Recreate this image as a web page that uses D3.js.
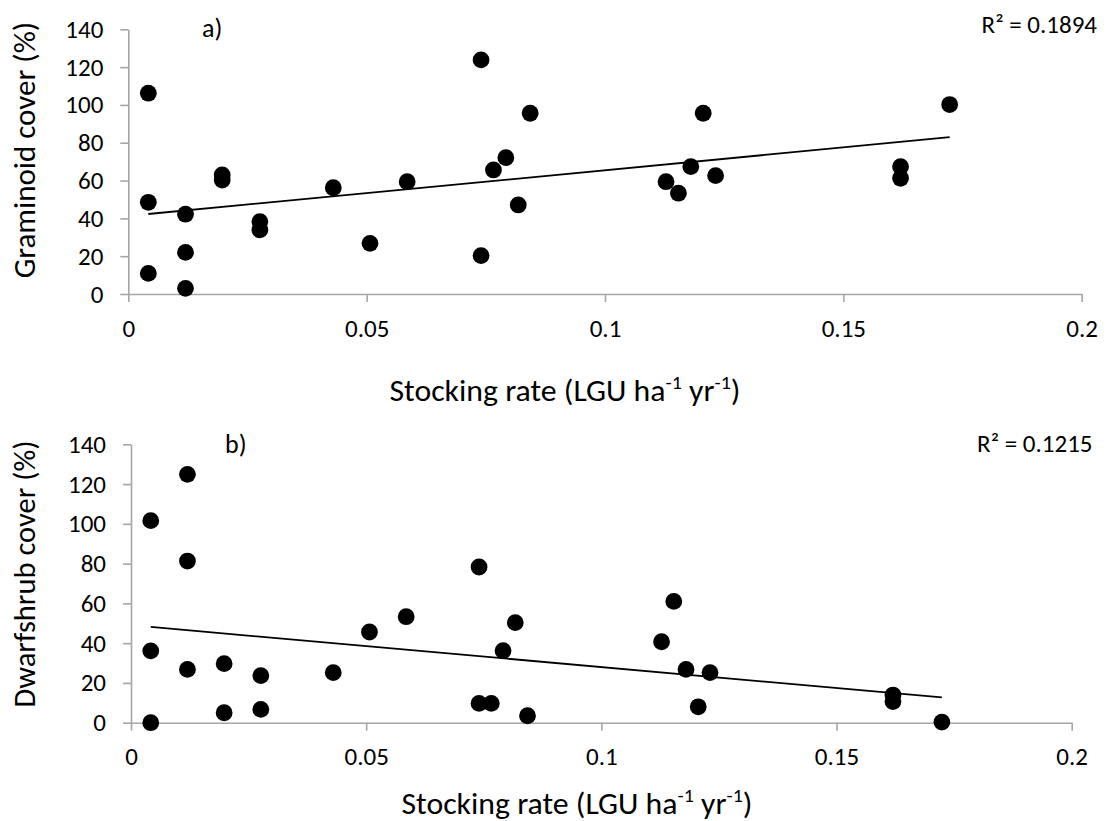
<!DOCTYPE html>
<html>
<head>
<meta charset="utf-8">
<script src="https://cdn.jsdelivr.net/npm/d3@7"></script>
<style>
  html, body { margin: 0; padding: 0; background: #fff; }
  svg { display: block; font-family: Carlito, Lato, "Open Sans", sans-serif; }
</style>
</head>
<body>
<svg id="chart" width="1110" height="821"></svg>
<script>
// ---------- data ----------
const xTicks = [0, 0.05, 0.1, 0.15, 0.2];
const xTickLabels = ["0", "0.05", "0.1", "0.15", "0.2"];
const yTicks = [0, 20, 40, 60, 80, 100, 120, 140];
const yTickLabels = ["0", "20", "40", "60", "80", "100", "120", "140"];

const stockingA = [0.0042,0.0042,0.0042,0.0120,0.0120,0.0120,0.0197,0.0197,0.0276,0.0276,0.0430,0.0507,0.0585,0.0740,0.0740,0.0766,0.0792,0.0818,0.0843,0.1128,0.1154,0.1180,0.1206,0.1232,0.1620,0.1620,0.1723];
const graminoid = [106.2,48.5,10.9,42.2,22.0,3.0,63.0,60.3,38.3,33.9,56.2,26.8,59.4,123.8,20.3,65.6,72.1,47.1,95.6,59.4,53.3,67.4,95.6,62.6,67.4,61.2,100.2];

const stockingB = [0.0042,0.0042,0.0042,0.0120,0.0120,0.0120,0.0198,0.0198,0.0276,0.0276,0.0430,0.0507,0.0585,0.0740,0.0740,0.0766,0.0791,0.0817,0.0843,0.1128,0.1154,0.1180,0.1206,0.1231,0.1620,0.1620,0.1724];
const dwarfshrub = [101.6,36.1,0.0,124.9,81.3,26.8,29.7,5.0,23.7,6.7,25.2,45.6,53.3,78.3,9.7,9.7,36.2,50.3,3.5,40.7,61.0,26.8,8.0,25.2,13.9,10.6,0.3];

const panelLetters = ["a)", "b)"];
const yTitles = ["Graminoid cover (%)", "Dwarfshrub cover (%)"];
const rSquared = ["R\u00B2 = 0.1894", "R\u00B2 = 0.1215"];

// ---------- layout ----------
const panels = [
  { xs: stockingA, ys: graminoid, x0: 128.3, x1: 1081.7, y0: 294, y1: 29.3,
    letter: panelLetters[0], letterPos: [202, 37], yTitle: yTitles[0], yTitlePos: [35, 150], yTitleSize: 31,
    r2: rSquared[0], r2Pos: [1097, 33.3], xTitlePos: [565, 400.7] },
  { xs: stockingB, ys: dwarfshrub, x0: 131, x1: 1071.7, y0: 722.7, y1: 444.3,
    letter: panelLetters[1], letterPos: [225, 453.3], yTitle: yTitles[1], yTitlePos: [35, 574], yTitleSize: 30.5,
    r2: rSquared[1], r2Pos: [1092.5, 452.3], xTitlePos: [577, 814] }
];

const svg = d3.select("#chart");
const axisColor = "#a6a6a6";
const tickFont = 25;
const titleFont = 30;
const xTitleWidth = 351;

function regression(xs, ys) {
  const mx = d3.mean(xs), my = d3.mean(ys);
  let sxy = 0, sxx = 0;
  xs.forEach((x, i) => { sxy += (x - mx) * (ys[i] - my); sxx += (x - mx) * (x - mx); });
  const b = sxy / sxx;
  return { a: my - b * mx, b };
}

panels.forEach(p => {
  const x = d3.scaleLinear().domain([0, 0.2]).range([p.x0, p.x1]);
  const y = d3.scaleLinear().domain([0, 140]).range([p.y0, p.y1]);
  const g = svg.append("g");

  // y axis
  const ya = g.append("g").attr("transform", `translate(${p.x0},0)`)
    .call(d3.axisLeft(y).tickValues(yTicks).tickFormat((d, i) => yTickLabels[i])
      .tickSize(8).tickSizeOuter(0).tickPadding(17));
  // x axis
  const xa = g.append("g").attr("transform", `translate(0,${p.y0})`)
    .call(d3.axisBottom(x).tickValues(xTicks).tickFormat((d, i) => xTickLabels[i])
      .tickSize(8).tickSizeOuter(0));
  [ya, xa].forEach(a => {
    a.select(".domain").attr("stroke", axisColor).attr("stroke-width", 1.6);
    a.selectAll(".tick line").attr("stroke", axisColor).attr("stroke-width", 1.6);
    a.selectAll(".tick text").attr("fill", "#000").style("font-size", tickFont + "px")
      .style("font-family", "Carlito, Lato, 'Open Sans', sans-serif");
  });
  xa.selectAll(".tick text").attr("y", 42.5).attr("dy", 0);

  // trend line
  const r = regression(p.xs, p.ys);
  const ext = d3.extent(p.xs);
  g.append("path")
    .datum(ext.map(v => [v, r.a + r.b * v]))
    .attr("d", d3.line().x(d => x(d[0])).y(d => y(d[1])))
    .attr("stroke", "#000").attr("stroke-width", 1.8).attr("fill", "none");

  // points
  g.append("g").selectAll("circle")
    .data(p.xs.map((v, i) => [v, p.ys[i]]))
    .join("circle")
    .attr("cx", d => x(d[0])).attr("cy", d => y(d[1]))
    .attr("r", 8.4).attr("fill", "#000");

  // panel letter
  g.append("text").attr("x", p.letterPos[0]).attr("y", p.letterPos[1])
    .style("font-size", "26px").attr("fill", "#000").text(p.letter);

  // R2
  g.append("text").attr("x", p.r2Pos[0]).attr("y", p.r2Pos[1])
    .attr("text-anchor", "end").style("font-size", tickFont + "px").attr("fill", "#000").text(p.r2);

  // y title
  g.append("text").attr("transform", `translate(${p.yTitlePos[0]},${p.yTitlePos[1]}) rotate(-90)`)
    .attr("text-anchor", "middle").style("font-size", p.yTitleSize + "px").attr("fill", "#000").text(p.yTitle);

  // x title
  const xt = g.append("text").attr("x", p.xTitlePos[0]).attr("y", p.xTitlePos[1])
    .attr("text-anchor", "middle").style("font-size", titleFont + "px").attr("fill", "#000");
  xt.append("tspan").text("Stocking rate (LGU ha");
  xt.append("tspan").attr("dy", -12).style("font-size", "19px").text("-1");
  xt.append("tspan").attr("dy", 12).text(" yr");
  xt.append("tspan").attr("dy", -12).style("font-size", "19px").text("-1");
  xt.append("tspan").attr("dy", 12).text(")");
  xt.attr("textLength", xTitleWidth).attr("lengthAdjust", "spacingAndGlyphs");
});
</script>
</body>
</html>
